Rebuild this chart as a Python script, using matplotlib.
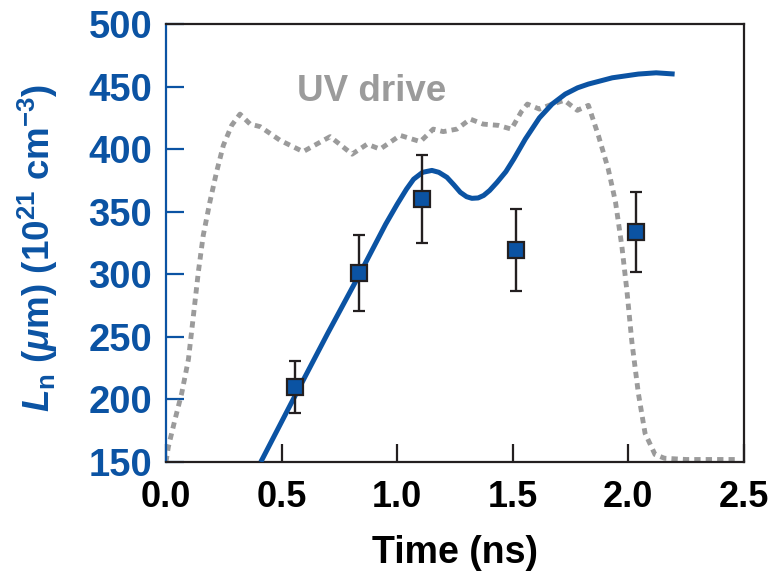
import matplotlib
matplotlib.use("Agg")
import matplotlib.pyplot as plt

# ---- data ----
uv_t = [0.0, 0.01, 0.039, 0.068, 0.097, 0.118, 0.14, 0.161, 0.19, 0.219, 0.248, 0.284, 0.32,
        0.364, 0.407, 0.494, 0.593, 0.71, 0.805, 0.87, 0.926, 1.013, 1.1, 1.156, 1.199,
        1.258, 1.316, 1.372, 1.437, 1.494, 1.537, 1.563, 1.615, 1.671, 1.723, 1.779, 1.827,
        1.87, 1.913, 1.944, 1.972, 1.994, 2.015, 2.043, 2.072, 2.115, 2.156, 2.25, 2.46]
uv_v = [150, 162, 184, 205, 232, 266, 302, 331, 358, 382, 403, 419, 428,
        420, 418, 407, 398, 410, 396, 404, 400, 411, 406, 416, 414,
        416, 424, 420, 419, 416, 430, 436, 432, 436, 439, 431, 435,
        411, 384, 358, 322, 286, 246, 205, 173, 156, 153, 152, 152]

ln_t = [0.41, 0.55, 0.70, 0.84, 0.95, 1.00, 1.04, 1.071, 1.11, 1.15, 1.18, 1.215, 1.245,
        1.273, 1.30, 1.323, 1.35, 1.374, 1.40, 1.432, 1.47, 1.504, 1.554, 1.615, 1.67,
        1.727, 1.78, 1.827, 1.93, 2.043, 2.12, 2.2]
ln_v = [150, 200, 253, 301, 340, 356, 368, 376, 381.5, 383, 381.5, 377.5, 371.5,
        365.5, 362, 360.7, 361, 363, 367, 373.5, 382, 392, 408, 425, 436,
        444, 449, 452, 457, 460, 461, 460]

pt_t = [0.56, 0.835, 1.107, 1.513, 2.035]
pt_v = [210, 301, 360, 319.5, 334]
pt_err = [21, 30, 35, 33, 32]

xticks = [0.0, 0.5, 1.0, 1.5, 2.0, 2.5]
yticks = [150, 200, 250, 300, 350, 400, 450, 500]

BLUE = '#0B53A3'
GRAY = '#9B9B9B'
DARK = '#231F20'

plt.rcParams['font.family'] = ['Liberation Sans', 'DejaVu Sans']
plt.rcParams['font.weight'] = 'bold'
plt.rcParams['mathtext.fontset'] = 'custom'
plt.rcParams['mathtext.rm'] = 'Liberation Sans:bold'
plt.rcParams['mathtext.it'] = 'Liberation Sans:bold:italic'
plt.rcParams['mathtext.bf'] = 'Liberation Sans:bold'

fig = plt.figure(figsize=(7.74, 5.78), dpi=100)
ax = fig.add_axes([166/774, 1-462/578, (744-166)/774, (462-24)/578])

ax.plot(uv_t, uv_v, color=GRAY, lw=3.5, linestyle=(0, (1.3, 1.05)), zorder=2)
ax.plot(ln_t, ln_v, color=BLUE, lw=3.6, zorder=3, solid_capstyle='butt',
        solid_joinstyle='round')
ax.errorbar(pt_t, pt_v, yerr=pt_err, fmt='s', color=DARK, ecolor=DARK,
            elinewidth=1.7, capsize=4.5, capthick=1.7, markersize=11.5,
            markerfacecolor=BLUE, markeredgecolor=DARK, markeredgewidth=1.6, zorder=4)

ax.text(0.567, 446, 'UV drive', color=GRAY, fontsize=26.5, fontweight='bold',
        ha='left', va='center')

ax.set_xlim(0, 2.5)
ax.set_ylim(150, 500)
ax.set_xticks(xticks)
ax.set_xticklabels([f'{v:.1f}' for v in xticks])
ax.set_yticks(yticks)
ax.set_yticklabels([str(v) for v in yticks])

ax.tick_params(axis='x', direction='in', length=13, width=1.6, color=DARK,
               labelsize=26, labelcolor='black', pad=13)
ax.tick_params(axis='y', direction='in', length=13, width=1.6, color=BLUE,
               labelsize=27.5, labelcolor=BLUE, pad=10)
for lab in ax.get_xticklabels() + ax.get_yticklabels():
    lab.set_fontweight('bold')

for s in ['top', 'right', 'bottom']:
    ax.spines[s].set_color(DARK)
    ax.spines[s].set_linewidth(1.6)
ax.spines['left'].set_color(BLUE)
ax.spines['left'].set_linewidth(1.6)

ax.set_xlabel('Time (ns)', fontsize=27, fontweight='bold', color='black')
ax.xaxis.set_label_coords(0.5, -(553 - 462) / (462 - 24))
ax.set_ylabel(r'$\mathit{L}_\mathrm{n}$ ($\mathit{\mu}$m) (10$^{21}$ cm$^{-3}$)',
              fontsize=26.5, fontweight='bold', color=BLUE)
ax.yaxis.set_label_coords(-(166 - 38) / (744 - 166), 0.49)
ax.xaxis.label.set_va('center')
ax.yaxis.label.set_va('center')

fig.savefig('out.png', dpi=100)
